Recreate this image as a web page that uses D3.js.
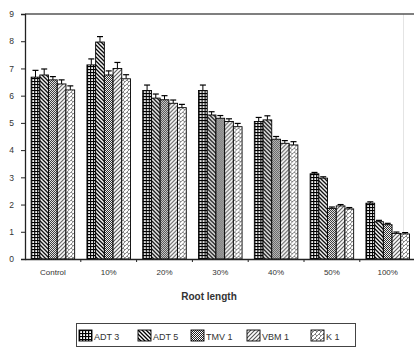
<!DOCTYPE html>
<html>
<head>
<meta charset="utf-8">
<script src="https://cdn.jsdelivr.net/npm/d3@7"></script>
<style>
  html, body { margin: 0; padding: 0; background: #fff; }
  svg { display: block; font-family: "Liberation Sans", Arial, sans-serif; }
</style>
</head>
<body>
<svg id="chart" width="414" height="349"></svg>
<script>
// Root length by treatment level for five varieties
const categories = ["Control", "10%", "20%", "30%", "40%", "50%", "100%"];
const seriesNames = ["ADT 3", "ADT 5", "TMV 1", "VBM 1", "K 1"];
const adt3 = [6.68, 7.13, 6.19, 6.19, 5.05, 3.13, 2.05];
const adt5 = [6.76, 7.97, 5.91, 5.29, 5.11, 2.97, 1.37];
const tmv1 = [6.58, 6.76, 5.85, 5.17, 4.40, 1.86, 1.26];
const vbm1 = [6.43, 7.00, 5.72, 5.05, 4.25, 1.95, 0.94];
const k1   = [6.21, 6.62, 5.56, 4.86, 4.19, 1.84, 0.92];
const adt3Err = [0.25, 0.22, 0.2, 0.2, 0.15, 0.05, 0.05];
const adt5Err = [0.22, 0.2, 0.15, 0.12, 0.15, 0.05, 0.05];
const tmv1Err = [0.12, 0.15, 0.15, 0.1, 0.1, 0.05, 0.05];
const vbm1Err = [0.15, 0.22, 0.12, 0.1, 0.1, 0.05, 0.05];
const k1Err   = [0.15, 0.15, 0.12, 0.12, 0.12, 0.05, 0.05];
const yTicks = [0, 1, 2, 3, 4, 5, 6, 7, 8, 9];

const seriesValues = [adt3, adt5, tmv1, vbm1, k1];
const seriesErrors = [adt3Err, adt5Err, tmv1Err, vbm1Err, k1Err];

const svg = d3.select("#chart");
const plotLeft = 25, plotTop = 14, plotBottom = 259, plotRight = 415.6;

// Fill patterns, one per variety
const defs = svg.append("defs");
function pattern(id, size, draw) {
  const p = defs.append("pattern").attr("id", id)
    .attr("patternUnits", "userSpaceOnUse")
    .attr("width", size).attr("height", size);
  p.append("rect").attr("width", size).attr("height", size).attr("fill", "#fff");
  draw(p);
}
pattern("pGrid", 3, p => {
  p.append("rect").attr("x", 0).attr("y", 0).attr("width", 1.2).attr("height", 3).attr("fill", "#000");
  p.append("rect").attr("x", 0).attr("y", 0).attr("width", 3).attr("height", 1.1).attr("fill", "#000");
});
pattern("pBack", 4, p => {
  p.append("path").attr("d", "M-1,-1 L5,5 M-1,3 L1,5 M3,-1 L5,1")
    .attr("stroke", "#000").attr("stroke-width", 1.3);
});
pattern("pCheck", 2, p => {
  p.append("rect").attr("x", 0).attr("y", 0).attr("width", 1).attr("height", 1).attr("fill", "#222");
  p.append("rect").attr("x", 1).attr("y", 1).attr("width", 1).attr("height", 1).attr("fill", "#222");
});
pattern("pFwd", 4, p => {
  p.append("path").attr("d", "M-1,5 L5,-1 M-1,1 L1,-1 M3,5 L5,3")
    .attr("stroke", "#555").attr("stroke-width", 1.1);
});
pattern("pLattice", 4, p => {
  p.append("path").attr("d", "M-1,5 L5,-1 M-1,1 L1,-1 M3,5 L5,3")
    .attr("stroke", "#777").attr("stroke-width", 0.9);
  p.append("path").attr("d", "M0,0 L2,2")
    .attr("stroke", "#777").attr("stroke-width", 0.9);
});
const fills = ["url(#pGrid)", "url(#pBack)", "url(#pCheck)", "url(#pFwd)", "url(#pLattice)"];

// Scales
const x0 = d3.scaleBand().domain(categories).range([plotLeft, plotRight])
  .paddingInner(0.22).paddingOuter(0.11);
const x1 = d3.scaleBand().domain(seriesNames).range([0, x0.bandwidth()]);
const y = d3.scaleLinear().domain([0, 9]).range([plotBottom, plotTop]);

// Faint frame edge on the right
svg.append("line").attr("x1", 403.5).attr("x2", 403.5).attr("y1", plotTop).attr("y2", plotBottom)
  .attr("stroke", "#e4e4e4").attr("stroke-width", 1);

// Bars and error bars
const rows = categories.map((c, i) => ({
  cat: c,
  items: seriesNames.map((s, j) => ({ s, j, v: seriesValues[j][i], e: seriesErrors[j][i] }))
}));
const g = svg.append("g");
const groups = g.selectAll("g.grp").data(rows).join("g")
  .attr("transform", d => `translate(${x0(d.cat)},0)`);
groups.selectAll("line.err").data(d => d.items).join("line")
  .attr("x1", d => x1(d.s) + x1.bandwidth() / 2)
  .attr("x2", d => x1(d.s) + x1.bandwidth() / 2)
  .attr("y1", d => y(d.v)).attr("y2", d => y(d.v + d.e))
  .attr("stroke", "#000").attr("stroke-width", 1);
groups.selectAll("line.cap").data(d => d.items).join("line")
  .attr("x1", d => x1(d.s) + x1.bandwidth() / 2 - 3)
  .attr("x2", d => x1(d.s) + x1.bandwidth() / 2 + 3)
  .attr("y1", d => y(d.v + d.e)).attr("y2", d => y(d.v + d.e))
  .attr("stroke", "#000").attr("stroke-width", 1.2);
groups.selectAll("rect").data(d => d.items).join("rect")
  .attr("x", d => x1(d.s))
  .attr("y", d => y(d.v))
  .attr("width", x1.bandwidth())
  .attr("height", d => y(0) - y(d.v))
  .attr("fill", d => fills[d.j])
  .attr("stroke", "#000").attr("stroke-width", 0.9);

// Top frame line
svg.append("line").attr("x1", plotLeft).attr("x2", 414).attr("y1", plotTop).attr("y2", plotTop)
  .attr("stroke", "#555").attr("stroke-width", 1.6);

// Y axis
const yAxis = svg.append("g").attr("transform", `translate(${plotLeft},0)`)
  .call(d3.axisLeft(y).tickValues(yTicks).tickSize(4).tickPadding(7).tickFormat(d3.format("d")));
yAxis.select(".domain").attr("stroke", "#222").attr("stroke-width", 1.3);
yAxis.selectAll(".tick line").attr("stroke", "#222");
yAxis.selectAll("text").attr("font-size", 8.5).attr("fill", "#333");

// X axis: category labels plus separator ticks between groups
const xAxis = svg.append("g").attr("transform", `translate(0,${plotBottom})`)
  .call(d3.axisBottom(x0).tickSize(0).tickPadding(10));
xAxis.select(".domain").attr("stroke", "#222").attr("stroke-width", 1.3);
xAxis.selectAll("text").attr("font-size", 8).attr("fill", "#333");
const step = x0.step();
xAxis.selectAll("line.sep").data(d3.range(1, categories.length)).join("line")
  .attr("class", "sep")
  .attr("x1", i => plotLeft + i * step).attr("x2", i => plotLeft + i * step)
  .attr("y1", 0).attr("y2", 3).attr("stroke", "#222");

// Axis title
svg.append("text").attr("x", 209).attr("y", 300).attr("text-anchor", "middle")
  .attr("font-size", 10).attr("font-weight", "bold").attr("fill", "#333")
  .text("Root length");

// Legend
const lg = svg.append("g");
lg.append("rect").attr("x", 76.5).attr("y", 323.5).attr("width", 279).attr("height", 23)
  .attr("fill", "#fff").attr("stroke", "#444").attr("stroke-width", 1);
const legendX = [79, 138, 191, 247, 311];
const li = lg.selectAll("g.item").data(seriesNames).join("g")
  .attr("transform", (d, i) => `translate(${legendX[i]},330)`);
li.append("rect").attr("width", 13).attr("height", 11)
  .attr("fill", (d, i) => fills[i]).attr("stroke", "#000").attr("stroke-width", 0.9);
li.append("text").attr("x", 15).attr("y", 9.5).attr("font-size", 9).attr("fill", "#333")
  .text(d => d);
</script>
</body>
</html>
